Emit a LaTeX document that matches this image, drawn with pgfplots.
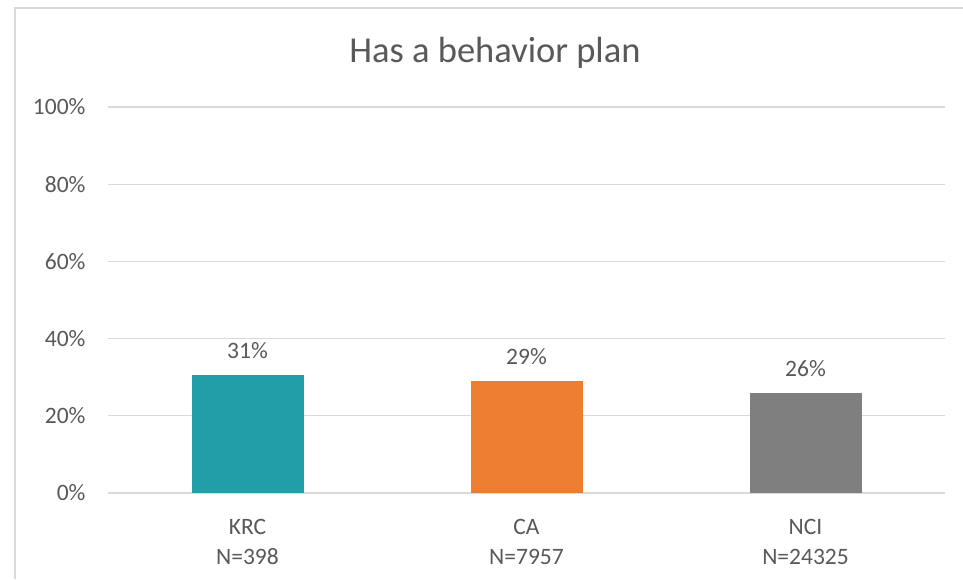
\documentclass[border=0pt]{standalone}
\usepackage{pgfplots}
\pgfplotsset{compat=1.18}
\usepackage{fontspec}
\setmainfont{Carlito}
\definecolor{txtc}{HTML}{595959}
\definecolor{gridc}{HTML}{D9D9D9}
\definecolor{cteal}{HTML}{219EA8}
\definecolor{corange}{HTML}{ED7D31}
\definecolor{cgray}{HTML}{7F7F7F}
\begin{document}
\begin{tikzpicture}[x=1pt,y=1pt]
\useasboundingbox (0,0) rectangle (963,579);
\fill[white] (0,0) rectangle (963,579);
\draw[gridc, line width=1.5pt] (15,0) -- (15,571) -- (963,571);
\node[txtc, font=\fontsize{36.5}{42}\selectfont] at (495,526) {Has a behavior plan};
\begin{axis}[
  at={(108pt,86pt)}, anchor=south west,
  scale only axis, width=837pt, height=386pt,
  xmin=-0.5, xmax=2.5, ymin=0, ymax=100,
  axis line style={draw=none},
  major tick length=0pt,
  ymajorgrids, xmajorgrids=false,
  grid style={draw=gridc, line width=1.2pt},
  ytick={0,20,40,60,80,100},
  yticklabels={0\%,20\%,40\%,60\%,80\%,100\%},
  xtick={0,1,2},
  xticklabels={KRC\\N=398, CA\\N=7957, NCI\\N=24325},
  xticklabel style={align=center, font=\fontsize{23.5}{30}\selectfont, text=txtc, yshift=-23pt},
  yticklabel style={font=\fontsize{23.5}{27}\selectfont, text=txtc, xshift=-19pt},
  /pgf/number format/assume math mode=true,
  ybar, bar width=112pt, bar shift=0pt,
  nodes near coords={\pgfmathprintnumber[fixed,precision=0]{\pgfplotspointmeta}\%},
  nodes near coords style={font=\fontsize{23.5}{27}\selectfont, text=txtc, fill=white, inner sep=3pt, yshift=13pt},
  clip=false,
]
\addplot[fill=cteal, draw=none] coordinates {(0,30.6)};
\addplot[fill=corange, draw=none] coordinates {(1,29.0)};
\addplot[fill=cgray, draw=none] coordinates {(2,25.9)};
\end{axis}
\end{tikzpicture}
\end{document}
